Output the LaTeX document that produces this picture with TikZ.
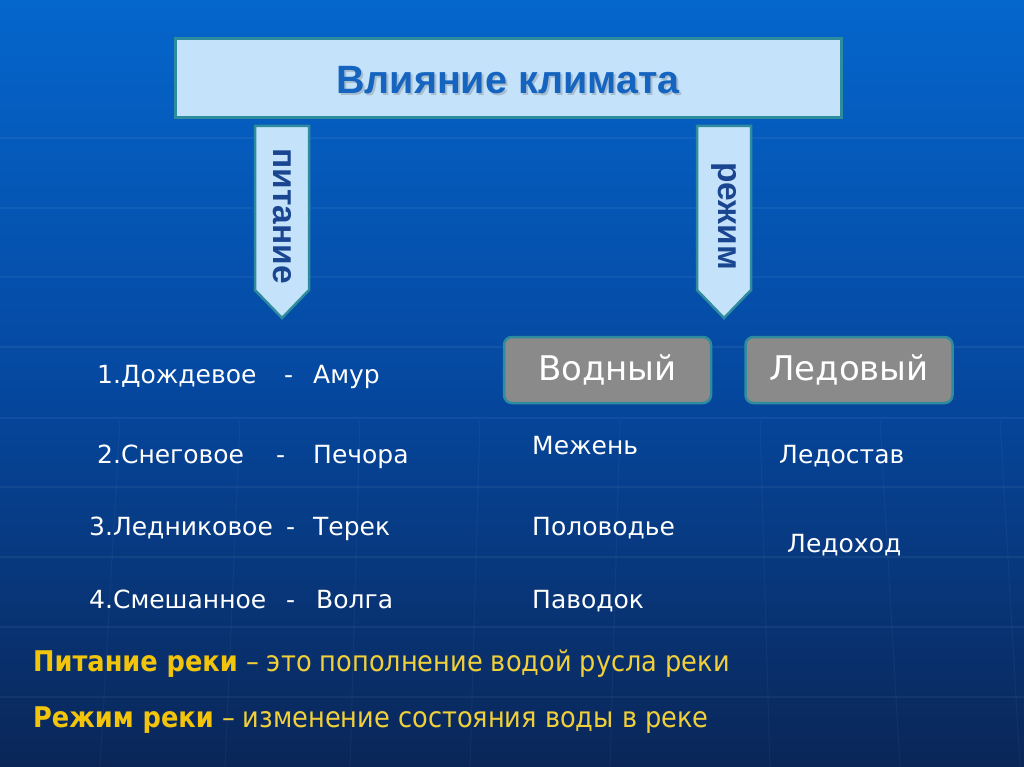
\documentclass[tikz,border=0pt]{standalone}
\usepackage{fontspec}
\setmainfont{DejaVu Sans}
\newfontfamily\arialf{Liberation Sans}
\newfontfamily\condf{DejaVu Sans Condensed}
\usetikzlibrary{calc}
\definecolor{bgtop}{HTML}{0566CC}
\definecolor{bgmid}{HTML}{0548A0}
\definecolor{bgbot}{HTML}{0A2657}
\definecolor{paleblue}{HTML}{C4E2FA}
\definecolor{tealb}{HTML}{2E8C9E}
\definecolor{titleblue}{HTML}{1464C0}
\definecolor{arrowtxt}{HTML}{1A4590}
\definecolor{grayfill}{HTML}{8A8A8A}
\definecolor{yel}{HTML}{F2C50C}
\definecolor{yel2}{HTML}{F0CF3A}
\tikzset{
  itemtxt/.style={text=white,font=\fontsize{25}{29}\selectfont,inner sep=0pt,anchor=base west},
  arrowbox/.style={fill=paleblue,draw=tealb,line width=2.5pt,line join=miter},
  arrowlabel/.style={text=arrowtxt,font=\arialf\bfseries\fontsize{33.5}{36}\selectfont,rotate=-90,inner sep=0pt},
  typebox/.style={fill=grayfill,draw=tealb,line width=2.5pt,rounded corners=8pt,minimum width=207pt,minimum height=66pt,text=white,font=\fontsize{34}{38}\selectfont},
  deftxt/.style={text=yel2,font=\condf\fontsize{28.5}{32}\selectfont,inner sep=0pt,anchor=base west},
}
\begin{document}
\begin{tikzpicture}[x=1pt,y=-1pt]
\useasboundingbox (0,0) rectangle (1024,767);
% background
\shade[top color=bgtop,bottom color=bgbot,middle color=bgmid] (0,0) rectangle (1024,767);
\foreach \yy in {138,208,277,347,418,487,557,627,697}
  \draw[white,opacity=0.05,line width=1.2pt] (0,\yy) -- (1024,\yy);
\foreach \xa/\xb in {120/100,240/225,360/350,480/470,620/610,760/770,880/900,1000/1020}
  \draw[white,opacity=0.04,line width=1pt] (\xa,420) -- (\xb,767);
% title
\node[fill=paleblue,draw=tealb,line width=2.5pt,minimum width=666pt,minimum height=79pt,inner sep=0pt] (title) at (508.5,78) {};
\node[text=black!60,opacity=0.3,font=\arialf\bfseries\fontsize{39.5}{42}\selectfont] (titleshadow) at (510,82) {Влияние климата};
\node[text=titleblue,font=\arialf\bfseries\fontsize{39.5}{42}\selectfont] (titletext) at (508,80) {Влияние климата};
% arrows
\draw[arrowbox] (255,126) -- (309,126) -- (309,290) -- (282,318) -- (255,290) -- cycle;
\coordinate (arrowL) at (282,216);
\node[arrowlabel] (pit) at (arrowL) {питание};
\draw[arrowbox] (697,126) -- (751,126) -- (751,290) -- (724,318) -- (697,290) -- cycle;
\coordinate (arrowR) at (724,216);
\node[arrowlabel] (rez) at (arrowR) {режим};
% type boxes
\node[typebox] (vod) at (607.5,370) {Водный};
\node[typebox] (led) at (849,370) {Ледовый};
% left items
\node[itemtxt] (i1) at (97,383) {1.Дождевое};
\node[itemtxt] (d1) at (284,383) {-};
\node[itemtxt] (r1) at (313,383) {Амур};
\node[itemtxt] (i2) at (97,463) {2.Снеговое};
\node[itemtxt] (d2) at (276,463) {-};
\node[itemtxt] (r2) at (313,463) {Печора};
\node[itemtxt] (i3) at (89,535) {3.Ледниковое};
\node[itemtxt] (d3) at (286,535) {-};
\node[itemtxt] (r3) at (313,535) {Терек};
\node[itemtxt] (i4) at (89,608) {4.Смешанное};
\node[itemtxt] (d4) at (286,608) {-};
\node[itemtxt] (r4) at (316,608) {Волга};
% middle
\node[itemtxt] (m1) at (532,454) {Межень};
\node[itemtxt] (m2) at (532,535) {Половодье};
\node[itemtxt] (m3) at (532,608) {Паводок};
% right
\node[itemtxt] (l1) at (779,463) {Ледостав};
\node[itemtxt] (l2) at (787,552) {Ледоход};
% definitions
\node[deftxt] (def1) at (33,671) {{\color{yel}\bfseries Питание реки} – это пополнение водой русла реки};
\node[deftxt] (def2) at (33,727) {{\color{yel}\bfseries Режим реки} – изменение состояния воды в реке};
\end{tikzpicture}
\end{document}
